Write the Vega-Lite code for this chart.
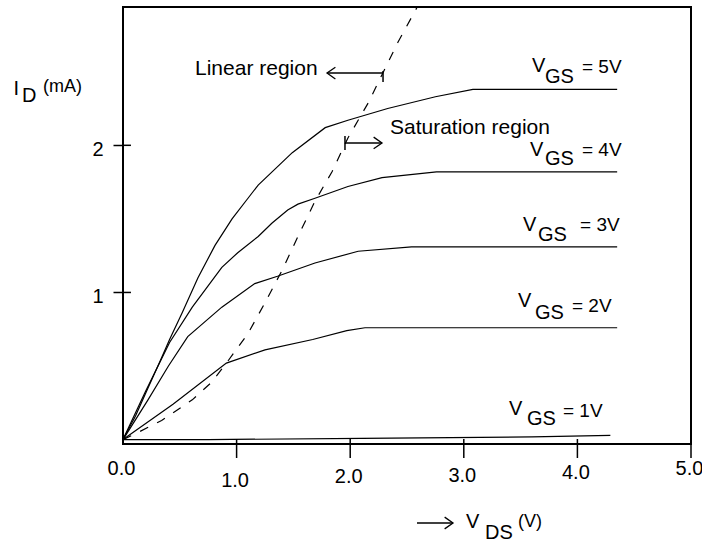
{
  "$schema": "https://vega.github.io/schema/vega-lite/v6.json",
  "width": 568,
  "height": 437,
  "autosize": {"type": "none"},
  "padding": {"left": 123, "top": 7, "right": 11, "bottom": 102},
  "background": "white",
  "config": {
    "view": {"stroke": "black", "strokeWidth": 2},
    "font": "Liberation Sans",
    "text": {"font": "Liberation Sans", "color": "black"}
  },
  "datasets": {
    "curves": [
      {"vgs": "5V", "v": 0, "i": 0}, {"vgs": "5V", "v": 0.11, "i": 0.16}, {"vgs": "5V", "v": 0.22, "i": 0.35},
      {"vgs": "5V", "v": 0.33, "i": 0.54}, {"vgs": "5V", "v": 0.41, "i": 0.68}, {"vgs": "5V", "v": 0.52, "i": 0.86},
      {"vgs": "5V", "v": 0.66, "i": 1.1}, {"vgs": "5V", "v": 0.81, "i": 1.32}, {"vgs": "5V", "v": 0.96, "i": 1.5},
      {"vgs": "5V", "v": 1.09, "i": 1.63}, {"vgs": "5V", "v": 1.19, "i": 1.73}, {"vgs": "5V", "v": 1.49, "i": 1.95},
      {"vgs": "5V", "v": 1.78, "i": 2.12}, {"vgs": "5V", "v": 1.98, "i": 2.17}, {"vgs": "5V", "v": 2.33, "i": 2.25},
      {"vgs": "5V", "v": 2.75, "i": 2.33}, {"vgs": "5V", "v": 3.08, "i": 2.38}, {"vgs": "5V", "v": 4.35, "i": 2.38},
      {"vgs": "4V", "v": 0, "i": 0}, {"vgs": "4V", "v": 0.2, "i": 0.33}, {"vgs": "4V", "v": 0.41, "i": 0.66},
      {"vgs": "4V", "v": 0.61, "i": 0.9}, {"vgs": "4V", "v": 0.87, "i": 1.17}, {"vgs": "4V", "v": 1.01, "i": 1.27},
      {"vgs": "4V", "v": 1.19, "i": 1.38}, {"vgs": "4V", "v": 1.31, "i": 1.47}, {"vgs": "4V", "v": 1.45, "i": 1.56},
      {"vgs": "4V", "v": 1.54, "i": 1.6}, {"vgs": "4V", "v": 1.69, "i": 1.64}, {"vgs": "4V", "v": 1.98, "i": 1.72},
      {"vgs": "4V", "v": 2.28, "i": 1.78}, {"vgs": "4V", "v": 2.76, "i": 1.82}, {"vgs": "4V", "v": 4.35, "i": 1.82},
      {"vgs": "3V", "v": 0, "i": 0}, {"vgs": "3V", "v": 0.22, "i": 0.27}, {"vgs": "3V", "v": 0.4, "i": 0.5},
      {"vgs": "3V", "v": 0.57, "i": 0.7}, {"vgs": "3V", "v": 0.87, "i": 0.9}, {"vgs": "3V", "v": 1.16, "i": 1.06},
      {"vgs": "3V", "v": 1.36, "i": 1.11}, {"vgs": "3V", "v": 1.69, "i": 1.2}, {"vgs": "3V", "v": 2.07, "i": 1.28},
      {"vgs": "3V", "v": 2.54, "i": 1.31}, {"vgs": "3V", "v": 4.35, "i": 1.31},
      {"vgs": "2V", "v": 0, "i": 0}, {"vgs": "2V", "v": 0.44, "i": 0.24}, {"vgs": "2V", "v": 0.91, "i": 0.52},
      {"vgs": "2V", "v": 1.25, "i": 0.61}, {"vgs": "2V", "v": 1.67, "i": 0.68}, {"vgs": "2V", "v": 1.97, "i": 0.74},
      {"vgs": "2V", "v": 2.13, "i": 0.76}, {"vgs": "2V", "v": 4.35, "i": 0.76},
      {"vgs": "1V", "v": 0, "i": 0}, {"vgs": "1V", "v": 0.75, "i": 0.0}, {"vgs": "1V", "v": 2.1, "i": 0.008},
      {"vgs": "1V", "v": 3.6, "i": 0.018}, {"vgs": "1V", "v": 4.29, "i": 0.028}
    ],
    "boundary": [
      {"v": 0, "i": 0}, {"v": 0.11, "i": 0.04}, {"v": 0.34, "i": 0.13}, {"v": 0.61, "i": 0.27},
      {"v": 0.78, "i": 0.39}, {"v": 0.92, "i": 0.53}, {"v": 1.1, "i": 0.72}, {"v": 1.25, "i": 0.93},
      {"v": 1.4, "i": 1.15}, {"v": 1.54, "i": 1.38}, {"v": 1.69, "i": 1.62}, {"v": 1.84, "i": 1.82},
      {"v": 1.98, "i": 2.05}, {"v": 2.16, "i": 2.29}, {"v": 2.28, "i": 2.48}, {"v": 2.42, "i": 2.7},
      {"v": 2.59, "i": 2.94}
    ],
    "texts": [
      {"kind": "note", "x": 0.634, "y": 2.519, "t": "Linear region"},
      {"kind": "note", "x": 2.35, "y": 2.118, "t": "Saturation region"},
      {"kind": "v", "x": 3.6, "y": 2.536, "t": "V"}, {"kind": "v", "x": 3.715, "y": 2.461, "t": "GS"}, {"kind": "eq", "x": 4.04, "y": 2.529, "t": "= 5V"},
      {"kind": "v", "x": 3.583, "y": 1.968, "t": "V"}, {"kind": "v", "x": 3.715, "y": 1.904, "t": "GS"}, {"kind": "eq", "x": 4.04, "y": 1.968, "t": "= 4V"},
      {"kind": "v", "x": 3.521, "y": 1.458, "t": "V"}, {"kind": "v", "x": 3.653, "y": 1.39, "t": "GS"}, {"kind": "eq", "x": 4.023, "y": 1.458, "t": "= 3V"},
      {"kind": "v", "x": 3.477, "y": 0.939, "t": "V"}, {"kind": "v", "x": 3.627, "y": 0.857, "t": "GS"}, {"kind": "eq", "x": 3.952, "y": 0.908, "t": "= 2V"},
      {"kind": "v", "x": 3.398, "y": 0.205, "t": "V"}, {"kind": "v", "x": 3.556, "y": 0.137, "t": "GS"}, {"kind": "eq", "x": 3.873, "y": 0.191, "t": "= 1V"},
      {"kind": "v", "x": -0.965, "y": 2.383, "t": "I"}, {"kind": "v", "x": -0.889, "y": 2.332, "t": "D"}, {"kind": "unit", "x": -0.704, "y": 2.393, "t": "(mA)"},
      {"kind": "v", "x": 3.019, "y": -0.563, "t": "V"}, {"kind": "v", "x": 3.187, "y": -0.638, "t": "DS"}, {"kind": "unit", "x": 3.477, "y": -0.563, "t": "(V)"}
    ],
    "rules": [
      {"x": 1.796, "x2": 2.289, "y": 2.491, "y2": 2.491},
      {"x": 2.289, "x2": 2.289, "y": 2.505, "y2": 2.43},
      {"x": 1.954, "x2": 2.28, "y": 2.016, "y2": 2.016},
      {"x": 1.954, "x2": 1.954, "y": 2.063, "y2": 1.968},
      {"x": 2.588, "x2": 2.905, "y": -0.567, "y2": -0.567},
      {"x": 1, "x2": 1, "y": -0.125, "y2": 0.004},
      {"x": 2, "x2": 2, "y": -0.125, "y2": 0.004},
      {"x": 3, "x2": 3, "y": -0.125, "y2": 0.004},
      {"x": 4, "x2": 4, "y": -0.125, "y2": 0.004},
      {"x": 5, "x2": 5, "y": -0.125, "y2": -0.03},
      {"x": 0, "x2": 0.07, "y": 1, "y2": 1},
      {"x": 0, "x2": 0.07, "y": 2, "y2": 2}
    ],
    "heads": [
      {"x": 1.796, "y": 2.491, "dir": "left"},
      {"x": 2.28, "y": 2.016, "dir": "right"},
      {"x": 2.905, "y": -0.567, "dir": "right"}
    ]
  },
  "encoding": {
    "x": {
      "type": "quantitative",
      "scale": {"domain": [0, 5], "nice": false, "zero": false},
      "axis": {
        "title": null, "grid": false, "domain": false,
        "values": [0, 1, 2, 3, 4, 5], "format": ".1f",
        "labelFont": "Liberation Sans", "labelFontSize": 20, "labelColor": "black",
        "labelBaseline": "middle", "labelOffset": -2,
        "labelPadding": {
          "condition": [
            {"test": "datum.value == 1", "value": 22},
            {"test": "datum.value == 2", "value": 18},
            {"test": "datum.value == 3", "value": 17},
            {"test": "datum.value == 4", "value": 14}
          ],
          "value": 10
        },
        "labelFlush": false, "labelOverlap": false,
        "tickColor": "transparent", "tickWidth": 1.5, "tickSize": 14
      }
    },
    "y": {
      "type": "quantitative",
      "scale": {"domain": [-0.03, 2.94], "nice": false, "zero": false},
      "axis": {
        "title": null, "grid": false, "domain": false,
        "values": [1, 2], "format": "d",
        "labelFont": "Liberation Sans", "labelFontSize": 20, "labelColor": "black",
        "labelBaseline": "middle", "labelPadding": 10, "labelOffset": 4,
        "tickColor": "black", "tickWidth": 1.5, "tickSize": 10
      }
    }
  },
  "layer": [
    {
      "data": {"name": "curves"},
      "mark": {"type": "line", "color": "black", "strokeWidth": 1.2},
      "encoding": {
        "x": {"field": "v"},
        "y": {"field": "i"},
        "detail": {"field": "vgs", "type": "nominal"}
      }
    },
    {
      "data": {"name": "boundary"},
      "mark": {"type": "line", "color": "black", "strokeWidth": 1.2, "strokeDash": [9, 10]},
      "encoding": {
        "x": {"field": "v"},
        "y": {"field": "i"}
      }
    },
    {
      "data": {"name": "rules"},
      "mark": {"type": "rule", "color": "black", "strokeWidth": 1.5},
      "encoding": {
        "x": {"field": "x"},
        "x2": {"field": "x2"},
        "y": {"field": "y"},
        "y2": {"field": "y2"}
      }
    },
    {
      "data": {"name": "heads"},
      "mark": {"type": "point", "filled": false, "color": "black", "strokeWidth": 1.3, "size": 280, "opacity": 1},
      "encoding": {
        "x": {"field": "x"},
        "y": {"field": "y"},
        "shape": {
          "field": "dir", "type": "nominal", "legend": null,
          "scale": {"domain": ["left", "right"], "range": ["M1,-0.7L0,0L1,0.7", "M-1,-0.7L0,0L-1,0.7"]}
        }
      }
    },
    {
      "data": {"name": "texts"},
      "mark": {"type": "text", "align": "left", "baseline": "middle", "font": "Liberation Sans", "color": "black"},
      "encoding": {
        "x": {"field": "x"},
        "y": {"field": "y"},
        "text": {"field": "t"},
        "size": {
          "field": "kind", "type": "nominal", "legend": null,
          "scale": {"domain": ["note", "v", "eq", "unit"], "range": [21, 18, 17, 16]}
        }
      }
    }
  ]
}
